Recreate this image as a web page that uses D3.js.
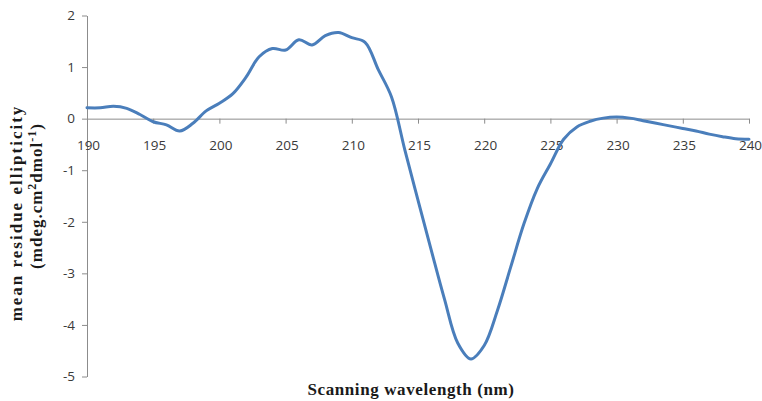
<!DOCTYPE html>
<html>
<head>
<meta charset="utf-8">
<script src="https://cdn.jsdelivr.net/npm/d3@7"></script>
<style>
  body { margin: 0; background: #fff; }
  svg { display: block; }
</style>
</head>
<body>
<script>
// wavelength in nm, 1 nm steps
var wavelength = [190, 191, 192, 193, 194, 195, 196, 197, 198, 199,
                  200, 201, 202, 203, 204, 205, 206, 207, 208, 209,
                  210, 211, 212, 213, 214, 215, 216, 217, 218, 219,
                  220, 221, 222, 223, 224, 225, 226, 227, 228, 229,
                  230, 231, 232, 233, 234, 235, 236, 237, 238, 239, 240];

// mean residue ellipticity
var ellipticity = [0.21, 0.21, 0.24, 0.2, 0.08, -0.06, -0.12, -0.24, -0.09, 0.15,
                   0.3, 0.48, 0.8, 1.2, 1.36, 1.33, 1.53, 1.43, 1.61, 1.67,
                   1.57, 1.48, 0.95, 0.42, -0.6, -1.58, -2.55, -3.5, -4.35, -4.66,
                   -4.4, -3.72, -2.88, -2.04, -1.36, -0.88, -0.4, -0.16, -0.05, 0.01,
                   0.03, 0.01, -0.04, -0.09, -0.14, -0.19, -0.24, -0.3, -0.35, -0.39, -0.4];

var xTicks = [190, 195, 200, 205, 210, 215, 220, 225, 230, 235, 240];
var yTicks = [2, 1, 0, -1, -2, -3, -4, -5];

var width = 762, height = 401;

var svg = d3.select('body').append('svg')
  .attr('width', width)
  .attr('height', height);

var x = d3.scaleLinear().domain([190, 240]).range([87, 749]);
var y = d3.scaleLinear().domain([-5, 2]).range([376.5, 15.5]);

var axisColor = '#8c8c8c',
    labelColor = '#3a3a3a';

// plain hyphen minus like the original
var plain = function(d) { return String(d); };

// y axis
var yAxis = svg.append('g')
  .attr('transform', 'translate(' + x(190) + ',0)')
  .call(d3.axisLeft(y).tickValues(yTicks).tickSize(5).tickSizeOuter(0).tickPadding(7)
    .tickFormat(plain));

// x axis sits on the zero line
var xAxis = svg.append('g')
  .attr('transform', 'translate(0,' + y(0) + ')')
  .call(d3.axisBottom(x).tickValues(xTicks).tickSize(5).tickSizeOuter(0).tickPadding(17)
    .tickFormat(plain));

[xAxis, yAxis].forEach(function(g) {
  g.select('.domain').attr('stroke', axisColor);
  g.selectAll('.tick line').attr('stroke', axisColor);
  g.selectAll('.tick text')
    .attr('fill', labelColor)
    .style('font-family', '"Open Sans", "Liberation Sans", sans-serif')
    .style('font-size', '13.5px');
});
xAxis.selectAll('.tick text').attr('dx', 1);

// the curve
var line = d3.line()
  .x(function(d, i) { return x(wavelength[i]); })
  .y(function(d) { return y(d); })
  .curve(d3.curveCatmullRom.alpha(0.5));

svg.append('path')
  .datum(ellipticity)
  .attr('d', line)
  .attr('fill', 'none')
  .attr('stroke', '#4a7ebb')
  .attr('stroke-width', 3)
  .attr('stroke-linejoin', 'round')
  .attr('stroke-linecap', 'round');

// axis titles
var titleFont = '"Liberation Serif", "Times New Roman", serif';

svg.append('text')
  .attr('x', 411)
  .attr('y', 395)
  .attr('text-anchor', 'middle')
  .style('font-family', titleFont)
  .style('font-weight', 'bold')
  .style('font-size', '17px')
  .style('letter-spacing', '0.6px')
  .attr('fill', '#1a1a1a')
  .text('Scanning wavelength (nm)');

var yTitle = svg.append('text')
  .attr('transform', 'translate(22,213) rotate(-90)')
  .attr('text-anchor', 'middle')
  .style('font-family', titleFont)
  .style('font-weight', 'bold')
  .style('font-size', '17px')
  .attr('fill', '#1a1a1a');

yTitle.append('tspan').attr('x', 0).attr('y', 0)
  .style('letter-spacing', '2px')
  .text('mean residue ellipticity');

var line2 = yTitle.append('tspan').attr('x', 17).attr('y', 20)
  .style('letter-spacing', '1px');
line2.append('tspan').text('(mdeg.cm');
line2.append('tspan').attr('dy', -6).style('font-size', '12px').text('2');
line2.append('tspan').attr('dy', 6).text('dmol');
line2.append('tspan').attr('dy', -6).style('font-size', '12px').text('-1');
line2.append('tspan').attr('dy', 6).text(')');
</script>
</body>
</html>
